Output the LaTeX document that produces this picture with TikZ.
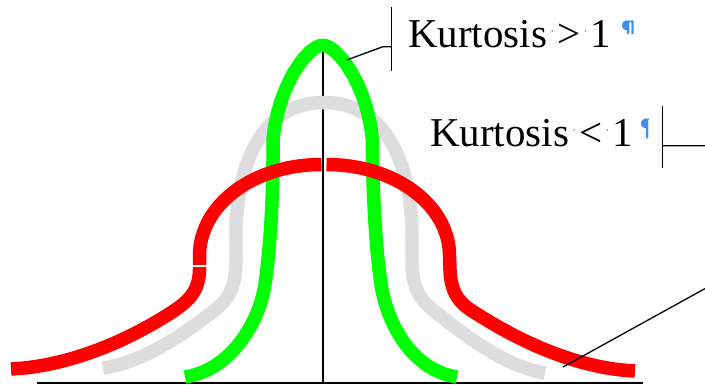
\documentclass[tikz,border=0pt]{standalone}
\usepackage{fontspec}
\setmainfont{Liberation Serif}
\newfontfamily\pilfont{DejaVu Sans}
\definecolor{pilblue}{RGB}{66,140,235}
\definecolor{curvegray}{RGB}{221,221,221}
\definecolor{curvered}{RGB}{255,0,0}
\definecolor{curvegreen}{RGB}{0,255,0}
\definecolor{dotgray}{RGB}{90,90,90}
\newcommand\spdot{\makebox[0.25em]{\raisebox{0.3em}{\fontsize{12}{12}\selectfont\color{dotgray}·}}}
\begin{document}
\begin{tikzpicture}[x=1pt,y=-1pt,
  curve/.style={line width=13.5pt, line cap=butt, line join=round},
  axisline/.style={line width=1.6pt, black},
  leader/.style={line width=1.3pt, black},
  kurtlabel/.style={font=\fontsize{41}{49}\selectfont, anchor=base west, inner sep=0pt},
  pil/.style={font=\pilfont\bfseries\fontsize{24}{28}\selectfont, text=pilblue, anchor=base west, inner sep=0pt}]
\useasboundingbox (0,0) rectangle (705,385);
\clip (0,0) rectangle (705,385);

% axes
\draw[axisline] (37,383) -- (643,383);
\draw[line width=1.3pt] (323,52) -- (323,383);

% gray (normal) curve
\draw[curve, curvegray] (103,368) .. controls (148,362) and (196,325) .. (216,309)
  .. controls (230,298) and (236,285) .. (236,260) -- (236,235)
  .. controls (236,172) and (258,102.5) .. (324,102.5)
  .. controls (390,102.5) and (412,172) .. (412,235) -- (412,260)
  .. controls (412,285) and (418,298) .. (432,309)
  .. controls (452,325) and (500,366) .. (545,373);

% green curve
\draw[curve, curvegreen] (185,377) .. controls (230,370) and (257,325) .. (264,290)
  .. controls (270,255) and (273.5,195) .. (273,140)
  .. controls (278,85) and (308,45.3) .. (322.7,45.3)
  .. controls (337.4,45.3) and (367.4,85) .. (372.4,140)
  .. controls (372.5,195) and (376,255) .. (382,290)
  .. controls (389,325) and (412,370) .. (457,377);

% red curve (two halves)
\draw[curve, curvered] (11,369) .. controls (76,366) and (136,335) .. (169,314)
  .. controls (188,302) and (199,292) .. (199.5,270) -- (199.5,255)
  .. controls (200,205) and (253,164.5) .. (321.5,164.5);
\draw[curve, curvered] (326.5,164.5) .. controls (395,164.5) and (449,205) .. (449.5,255)
  -- (450,270) .. controls (451,292) and (458,303) .. (477,314)
  .. controls (510,335) and (570,368) .. (635,371);
\draw[white, line width=1.5pt] (191,266) -- (208,266);

% labels
\node[kurtlabel] (t1) at (408,48) {Kurtosis\spdot>\spdot1};
\node[kurtlabel] (t2) at (430,146.7) {Kurtosis\spdot<\spdot1};
\begin{scope}
  \clip (612,10) rectangle (645,33.7);
  \node[pil] (p1) at (620.5,38.5) {¶};
\end{scope}
\begin{scope}
  \clip (632,105) rectangle (648.5,142);
  \node[pil] (p2) at (639.5,136.5) {¶};
\end{scope}

% leaders
\draw[leader] (391.7,7.3) -- (391.7,70.7);
\coordinate (b1) at (391.7,46.7);
\coordinate (g1) at (346.7,60);
\draw[leader] (b1) -- (383,46.7) -- (g1);
\draw[leader] (662.3,106) -- (662.3,168.3);
\coordinate (b2) at (662.3,145.7);
\coordinate (r1) at (563,367);
\draw[leader] (b2) -- (730,145.7) -- (730,274.8) -- (r1);
\end{tikzpicture}
\end{document}
